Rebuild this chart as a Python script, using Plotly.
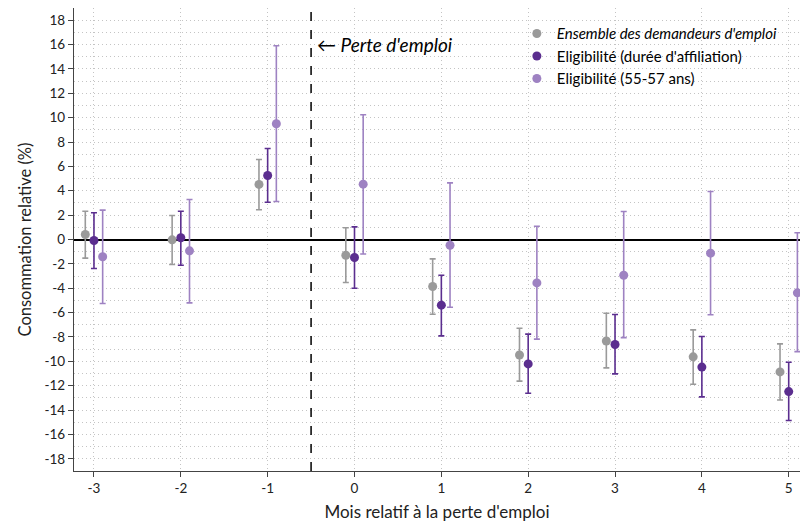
import plotly.graph_objects as go

months = [-3, -2, -1, 0, 1, 2, 3, 4, 5]

ens_val = [0.41, -0.03, 4.52, -1.29, -3.86, -9.48, -8.33, -9.63, -10.87]
ens_hi = [2.32, 1.97, 6.57, 0.96, -1.59, -7.28, -6.05, -7.42, -8.57]
ens_lo = [-1.53, -2.05, 2.44, -3.53, -6.13, -11.62, -10.54, -11.88, -13.17]

aff_val = [-0.08, 0.14, 5.25, -1.48, -5.39, -10.21, -8.62, -10.47, -12.48]
aff_hi = [2.19, 2.32, 7.47, 1.04, -2.93, -7.77, -6.16, -7.96, -10.07]
aff_lo = [-2.38, -2.11, 3.06, -4.00, -7.91, -12.62, -11.03, -12.92, -14.86]

age_val = [-1.42, -0.93, 9.50, 4.54, -0.47, -3.56, -2.93, -1.12, -4.38]
age_hi = [2.41, 3.28, 15.90, 10.24, 4.65, 1.09, 2.30, 3.94, 0.55]
age_lo = [-5.25, -5.20, 3.12, -1.19, -5.56, -8.18, -8.05, -6.18, -9.20]

series = [
    ("<i>Ensemble des demandeurs d'emploi</i>", ens_val, ens_hi, ens_lo, -0.1, "#9a9a9a"),
    ("Eligibilité (durée d'affiliation)", aff_val, aff_hi, aff_lo, 0.0, "#5b2e8f"),
    ("Eligibilité (55-57 ans)", age_val, age_hi, age_lo, 0.1, "#9e82c2"),
]

y_ticks = list(range(-18, 19, 2))

fig = go.Figure()
for name, v, hi, lo, off, col in series:
    fig.add_trace(go.Scatter(
        x=[m + off for m in months], y=v, mode="markers", name=name,
        marker=dict(color=col, size=9),
        error_y=dict(type="data", symmetric=False,
                     array=[h - a for h, a in zip(hi, v)],
                     arrayminus=[a - l for a, l in zip(v, lo)],
                     color=col, thickness=1.6, width=3),
    ))

font = "Lato, 'Open Sans', sans-serif"
fig.add_shape(type="line", xref="x", x0=-0.5, x1=-0.5, yref="paper", y0=0, y1=1,
              line=dict(color="black", width=1.5, dash="dash"))
fig.add_annotation(x=-0.5, y=16, xref="x", yref="y", text="<i>\u2190 Perte d'emploi</i>",
                   showarrow=False, xanchor="left", xshift=4,
                   font=dict(size=19, color="black", family=font))

grid = dict(showgrid=True, gridcolor="#c4c4c4", griddash="1px,3px", gridwidth=1)

fig.update_layout(
    width=800, height=523,
    margin=dict(l=74, r=0, t=8, b=52),
    paper_bgcolor="white", plot_bgcolor="white",
    font=dict(family=font, size=13.5, color="#222"),
    showlegend=True,
    legend=dict(x=0.61, y=0.98, xanchor="left", yanchor="top",
                bgcolor="rgba(0,0,0,0)", font=dict(size=15, color="black"),
                itemwidth=30, tracegroupgap=0),
    xaxis=dict(range=[-3.23, 5.13], tickvals=months, ticktext=[str(m) for m in months],
               showline=True, linecolor="#444", linewidth=1.2,
               ticks="outside", ticklen=5, tickcolor="#444",
               zeroline=False, **grid,
               title=dict(text="Mois relatif à la perte d'emploi", font=dict(size=17, color="#222"), standoff=10)),
    yaxis=dict(range=[-19, 19], tickvals=y_ticks, ticktext=[str(t) for t in y_ticks],
               showline=True, linecolor="#444", linewidth=1.2,
               ticks="outside", ticklen=5, tickcolor="#444",
               **grid,
               minor=dict(dtick=1, showgrid=True, gridcolor="#c4c4c4", griddash="1px,3px", ticks=""),
               zeroline=True, zerolinecolor="black", zerolinewidth=1.5,
               title=dict(text="Consommation relative (%)", font=dict(size=16.5, color="#222"), standoff=8)),
)

fig.write_html("out.html")
